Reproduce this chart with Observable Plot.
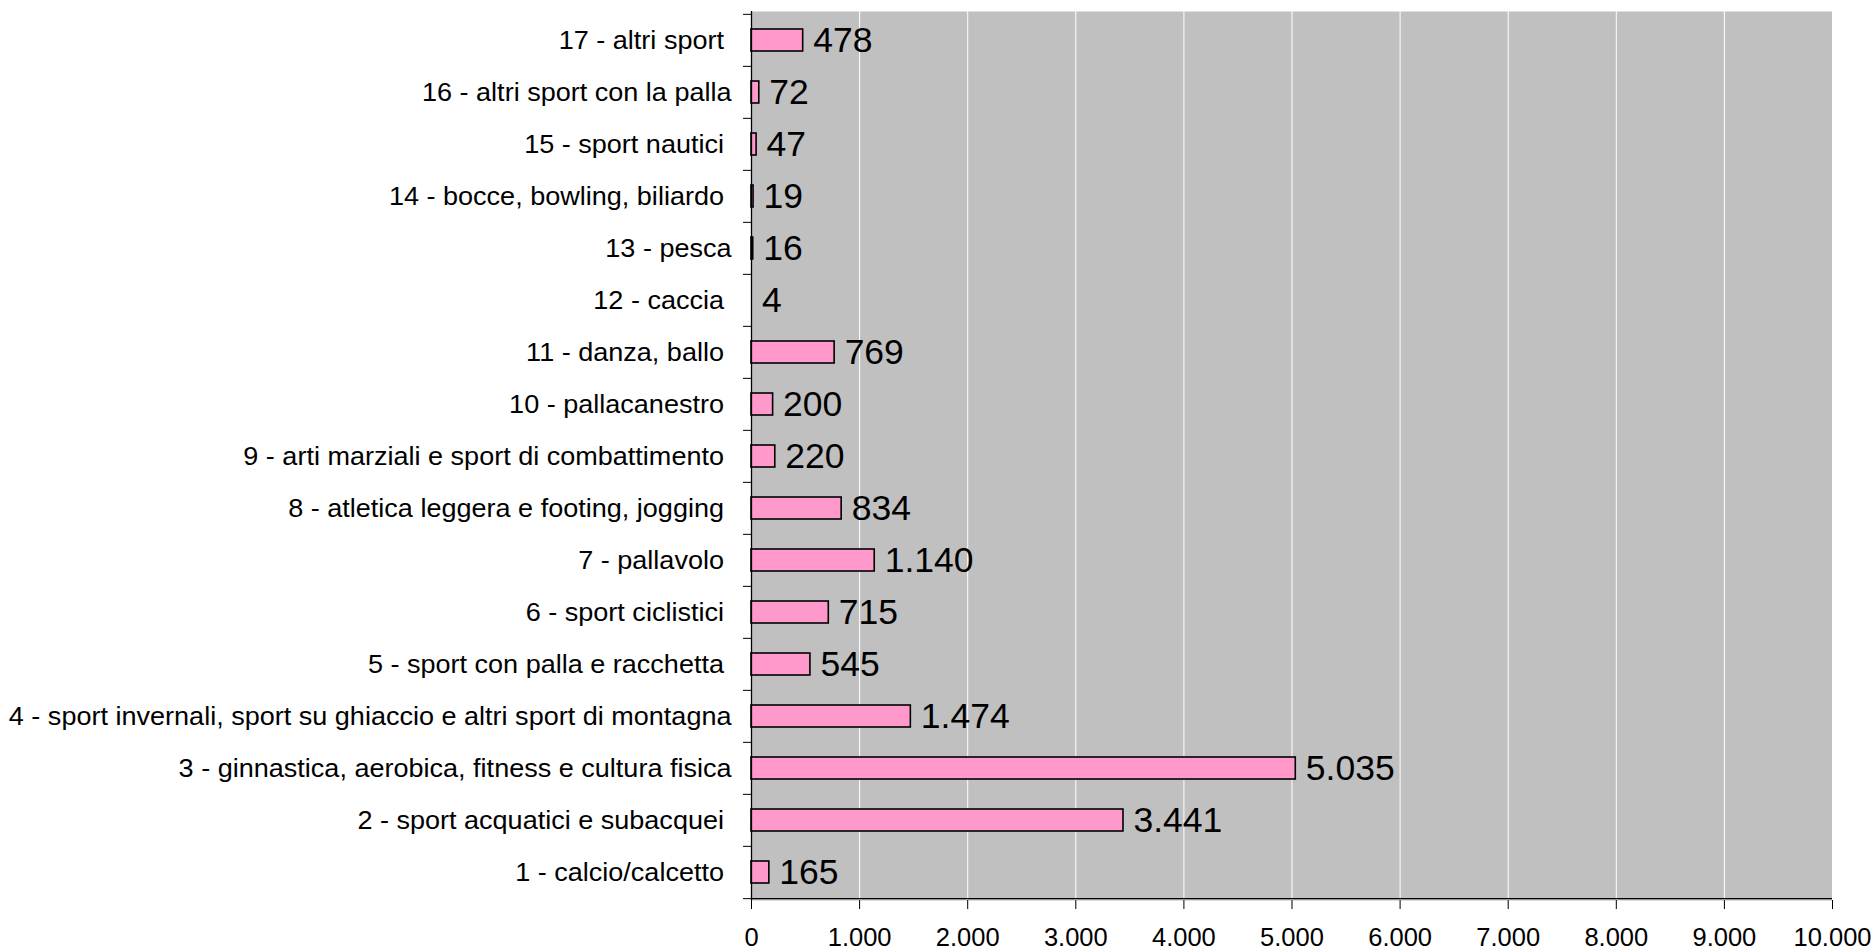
<!DOCTYPE html>
<html>
<head>
<meta charset="utf-8">
<script src="https://cdn.jsdelivr.net/npm/d3@7"></script>
<script src="https://cdn.jsdelivr.net/npm/@observablehq/plot@0.6"></script>
<style>
  html, body { margin: 0; padding: 0; background: #fff; }
  svg text { white-space: pre; }
</style>
</head>
<body>
<div id="chart"></div>
<script>
const categories = [
  "1 - calcio/calcetto ",
  "2 - sport acquatici e subacquei ",
  "3 - ginnastica, aerobica, fitness e cultura fisica",
  "4 - sport invernali, sport su ghiaccio e altri sport di montagna",
  "5 - sport con palla e racchetta ",
  "6 - sport ciclistici ",
  "7 - pallavolo ",
  "8 - atletica leggera e footing, jogging ",
  "9 - arti marziali e sport di combattimento ",
  "10 - pallacanestro ",
  "11 - danza, ballo ",
  "12 - caccia ",
  "13 - pesca",
  "14 - bocce, bowling, biliardo ",
  "15 - sport nautici ",
  "16 - altri sport con la palla",
  "17 - altri sport "
];
const values = [165, 3441, 5035, 1474, 545, 715, 1140, 834, 220, 200, 769, 4, 16, 19, 47, 72, 478];
const xTicks = [0, 1000, 2000, 3000, 4000, 5000, 6000, 7000, 8000, 9000, 10000];
const gridTicks = [1000, 2000, 3000, 4000, 5000, 6000, 7000, 8000, 9000, 10000];

const data = categories.map((c, i) => ({category: c, value: values[i]}));

const locale = d3.formatLocale({decimal: ",", thousands: ".", grouping: [3], currency: ["", " €"]});
const fmt = locale.format(",d");

const W = 1876, H = 951;
const mTop = 11, mBottom = 51, mLeft = 751, mRight = 44;
const step = (H - mTop - mBottom) / categories.length;

const plot = Plot.plot({
  width: W,
  height: H,
  marginTop: mTop,
  marginBottom: mBottom,
  marginLeft: mLeft,
  marginRight: mRight,
  style: {fontFamily: "'Liberation Sans', Arial, sans-serif", color: "#000", background: "#fff"},
  x: {domain: [0, 10000], axis: null, label: null},
  y: {domain: categories.slice().reverse(), paddingInner: 0.58, paddingOuter: 0.29, axis: null, label: null},
  marks: [
    Plot.frame({fill: "#C0C0C0", stroke: null}),
    Plot.gridX(gridTicks, {stroke: "#fff", strokeOpacity: 1, strokeWidth: 1}),
    Plot.barX(data, {x: "value", y: "category", fill: "#FF99CC", stroke: d => d.value < 10 ? "none" : "#000", strokeWidth: 1.6}),
    Plot.text(data, {x: "value", y: "category", text: d => fmt(d.value), textAnchor: "start", dx: 10, fontSize: 35.5, fill: "#000"}),
    Plot.ruleX([0], {stroke: "#000", strokeWidth: 1.3}),
    Plot.ruleY([categories[0]], {dy: step / 2, stroke: "#000", strokeWidth: 1.3}),
    Plot.axisX(xTicks, {anchor: "bottom", label: null, tickSize: 9, tickPadding: 18, fontSize: 25.5, tickFormat: fmt, stroke: "#000", fill: "#000"}),
    Plot.axisY({anchor: "left", label: null, tickSize: 0, tickPadding: 20, fontSize: 25.5, fill: "#000"}),
    Plot.axisY({anchor: "left", label: null, tickSize: 8, dy: -step / 2, tickFormat: () => "", stroke: "#000"}),
    Plot.axisY([categories[0]], {anchor: "left", label: null, tickSize: 8, dy: step / 2, tickFormat: () => "", stroke: "#000"})
  ]
});

document.getElementById("chart").appendChild(plot);

// slight horizontal stretch of category labels, as in the original rendering
plot.querySelectorAll("text").forEach(t => {
  const s = t.textContent;
  if (categories.includes(s)) {
    const w = t.getComputedTextLength();
    t.setAttribute("textLength", (w * 1.06).toFixed(1));
    t.setAttribute("lengthAdjust", "spacingAndGlyphs");
  }
});
</script>
</body>
</html>
